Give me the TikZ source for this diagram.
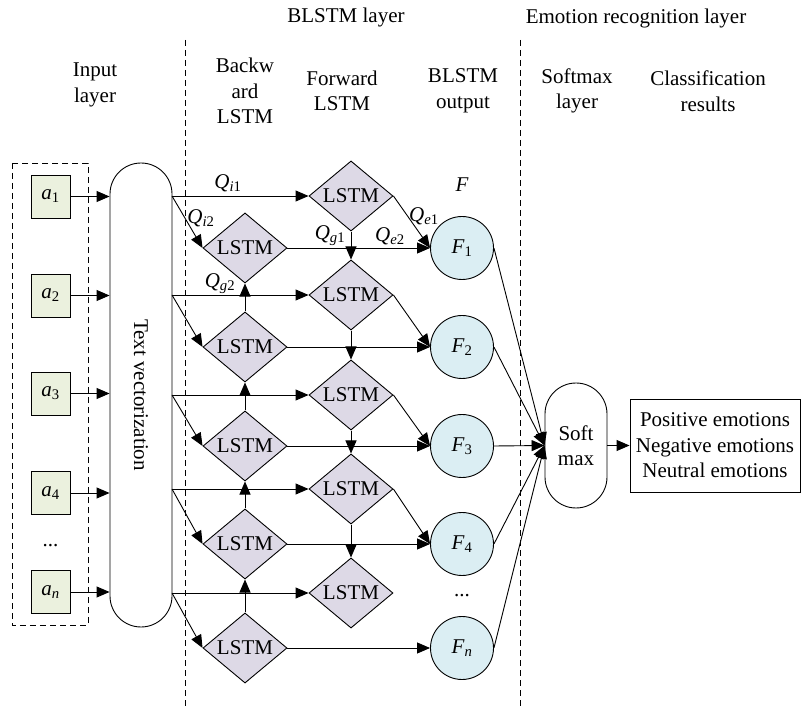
\documentclass[tikz,border=0pt]{standalone}
\usepackage{fontspec}
\setmainfont{Liberation Serif}
\usetikzlibrary{arrows.meta,shapes.geometric}
\newcommand{\vsub}[2]{\textit{#1}\textsubscript{#2}}
\definecolor{agreen}{HTML}{EBF1DE}
\definecolor{lav}{HTML}{DDD9E6}
\definecolor{cblue}{HTML}{DBEEF3}
\begin{document}
\begin{tikzpicture}[x=1pt,y=-1pt,
  font=\fontsize{21}{25.5}\selectfont,
  line width=0.9pt,
  arr/.style={-{Triangle[length=13pt,width=11pt]}},
  dashline/.style={dash pattern=on 6pt off 4pt, line width=0.8pt},
  abox/.style={draw, fill=agreen, minimum width=39pt, minimum height=43pt, inner sep=0pt},
  lstm/.style={draw, fill=lav, diamond, minimum width=84pt, minimum height=62pt, inner sep=0pt},
  fcirc/.style={draw, fill=cblue, circle, minimum size=63pt, inner sep=0pt},
  pill/.style={draw, rectangle, rounded corners=31pt, minimum width=62pt},
  head/.style={align=center, inner sep=0pt},
  lab/.style={inner sep=0pt}
]
\useasboundingbox (0,0) rectangle (801,708);

% headers
\node[head] (hblstm) at (346,17) {BLSTM layer};
\node[head] (hemo) at (636,18) {Emotion recognition layer};
\node[head] (hin) at (95,85) {Input\\layer};
\node[head] (hback) at (245,91) {Backw\\ard\\LSTM};
\node[head] (hfwd) at (342,91) {Forward\\LSTM};
\node[head] (hout) at (463,91) {BLSTM\\output};
\node[head] (hsoft) at (577,91) {Softmax\\layer};
\node[head] (hcls) at (708,91) {Classification\\results};

% dashed separators
\coordinate (d1t) at (185,40); \coordinate (d1b) at (185,708);
\coordinate (d2t) at (520,40); \coordinate (d2b) at (520,708);
\draw[dashline] (d1t) -- (d1b);
\draw[dashline] (d2t) -- (d2b);
\coordinate (inbox1) at (12,163); \coordinate (inbox2) at (88,625);
\draw[dashline] (inbox1) rectangle (inbox2);

% input boxes
\node[abox] (a1) at (50.5,196.5) {\vsub{a}{1}};
\node[abox] (a2) at (50.5,295.5) {\vsub{a}{2}};
\node[abox] (a3) at (50.5,393.5) {\vsub{a}{3}};
\node[abox] (a4) at (50.5,493) {\vsub{a}{4}};
\node[abox] (a5) at (50.5,592) {\vsub{a}{\textit{n}}};
\node[lab] (adots) at (50.5,546) {...};

% text vectorization pill
\node[pill, minimum height=464pt] (tv) at (141,395) {};
\node[rotate=-90, inner sep=0pt] (tvtext) at (141,395) {Text vectorization};

\foreach \i in {1,...,5}{
  \draw[arr] (a\i.east) -- (a\i.east -| tv.west);
}

% LSTM diamonds
\foreach \i/\yf/\yb in {1/196/248, 2/295/347, 3/395/446, 4/489/544, 5/593/648}{
  \node[lstm] (f\i) at (351,\yf) {LSTM};
  \node[lstm] (b\i) at (245,\yb) {LSTM};
  \coordinate (o\i) at (172,\yf);
  \draw[arr] (o\i) -- (f\i.west);
  \draw[arr] (o\i) -- (b\i.west);
}

% output circles
\node[fcirc] (F1) at (462,248) {\vsub{F}{1}};
\node[fcirc] (F2) at (462,347) {\vsub{F}{2}};
\node[fcirc] (F3) at (462,446) {\vsub{F}{3}};
\node[fcirc] (F4) at (462,544) {\vsub{F}{4}};
\node[fcirc] (F5) at (462,648) {\vsub{F}{\textit{n}}};
\node[lab] (Fdots) at (462,596) {...};
\node[lab] (Flab) at (462,185) {\textit{F}};

% recurrences
\foreach \i/\j in {1/2, 2/3, 3/4, 4/5}{
  \draw[arr] (f\i.south) -- (f\j.north);
  \draw[arr] (b\j.north) -- (b\i.south);
}
\foreach \i in {1,...,5}{
  \draw[arr] (b\i.east) -- (F\i.west);
}
\foreach \i in {1,...,4}{
  \draw[arr] (f\i.east) -- (F\i.west);
}

% softmax and results
\node[pill, minimum height=125pt, align=center, inner sep=0pt] (sm) at (576,445.5) {Soft\\max};
\node[draw, rectangle, minimum width=170pt, minimum height=93pt, align=center, inner sep=0pt] (cls) at (715,445.5)
  {Positive emotions\\Negative emotions\\Neutral emotions};
\foreach \i in {1,...,5}{
  \draw[arr] (F\i.east) -- (sm.west);
}
\draw[arr] (sm.east) -- (cls.west);

% edge labels
\node[lab] (qi1) at (228,183) {\vsub{Q}{\textit{i}1}};
\node[lab] (qi2) at (201,218) {\vsub{Q}{\textit{i}2}};
\node[lab] (qg1) at (330,236) {\vsub{Q}{\textit{g}1}};
\node[lab] (qe2) at (390,236) {\vsub{Q}{\textit{e}2}};
\node[lab] (qe1) at (424,216) {\vsub{Q}{\textit{e}1}};
\node[lab] (qg2) at (220,284) {\vsub{Q}{\textit{g}2}};
\end{tikzpicture}
\end{document}
